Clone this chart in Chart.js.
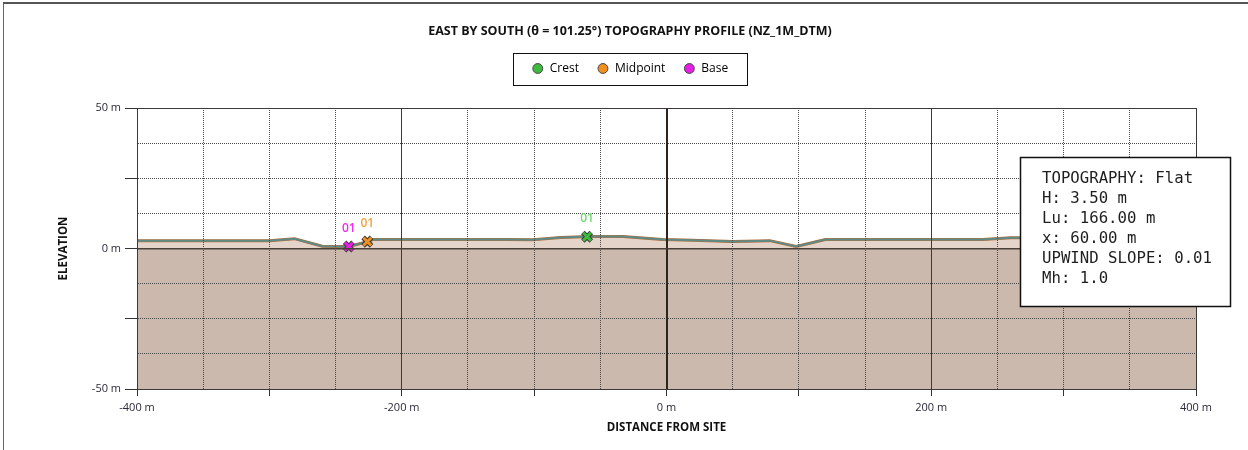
<!DOCTYPE html>
<html>
<head>
<meta charset="utf-8">
<script src="https://cdn.jsdelivr.net/npm/chart.js@4.4.1/dist/chart.umd.min.js"></script>
<style>
  html, body { margin: 0; padding: 0; background: #fff; overflow: hidden; }
  #wrap { position: relative; width: 1248px; height: 450px; }
  #frame { position: absolute; left: 3px; top: 2px; right: -10px; bottom: -10px;
           border-left: 1px solid #666; border-top: 2px solid #555; pointer-events: none; }
</style>
</head>
<body>
<div id="wrap">
  <canvas id="profileChart" width="1248" height="450"></canvas>
  <div id="frame"></div>
</div>
<script>
// terrain profile along the bearing (distance from site in m, elevation in m)
const profileX = [-400, -300, -281, -260, -249, -240, -226, -222, -160, -120, -101, -80, -58, -33, -3, 20, 50, 78, 98, 120, 239, 260, 320, 400];
const profileY = [2.8, 2.8, 3.5, 0.8, 0.7, 0.7, 2.4, 3.2, 3.2, 3.2, 3.1, 3.9, 4.3, 4.3, 3.2, 2.9, 2.5, 2.8, 0.7, 3.2, 3.2, 3.8, 3.8, 3.8];

// ground below datum
const groundX = [-400, 400];
const groundY = [0, 0];

// hill features
const markerNames = ['Crest', 'Midpoint', 'Base'];
const markerX = [-60, -226, -240];
const markerY = [4.2, 2.45, 0.7];
const markerTags = ['01', '01', '01'];
const markerColors = ['#3cbb3c', '#f0901e', '#e51fe5'];
const tagColors = ['#6fd86f', '#f7a23c', '#ef2cef'];

const infoLines = ['TOPOGRAPHY: Flat', 'H: 3.50 m', 'Lu: 166.00 m', 'x: 60.00 m', 'UPWIND SLOPE: 0.01', 'Mh: 1.0'];

const toPoints = (xs, ys) => xs.map((x, i) => ({ x: x, y: ys[i] }));

Chart.defaults.font.family = "'Open Sans', 'Noto Sans', sans-serif";
Chart.defaults.font.size = 11;
Chart.defaults.color = '#2a2a3a';

const datasets = [
  {
    label: 'ground',
    data: toPoints(groundX, groundY),
    borderWidth: 0,
    pointRadius: 0,
    fill: 'start',
    backgroundColor: '#cbb9ad',
    order: 5
  },
  {
    label: 'terrain',
    data: toPoints(profileX, profileY),
    borderColor: '#bb6c3a',
    borderWidth: 3,
    pointRadius: 0,
    fill: 'origin',
    backgroundColor: '#e5d4c9',
    order: 4
  },
  {
    label: 'profile',
    data: toPoints(profileX, profileY),
    borderColor: '#5f8b85',
    borderWidth: 2,
    pointRadius: 0,
    fill: false,
    order: 3
  }
];

// coloured crosses (indices 3..5)
markerNames.forEach((name, i) => {
  datasets.push({
    label: name,
    data: [{ x: markerX[i], y: markerY[i] }],
    showLine: false,
    pointStyle: 'crossRot',
    pointRadius: 5.5,
    pointBorderWidth: 3,
    pointBorderColor: markerColors[i],
    pointBackgroundColor: markerColors[i],
    order: 0
  });
});

// dark outline under each cross
markerNames.forEach((name, i) => {
  datasets.push({
    label: name + ' outline',
    data: [{ x: markerX[i], y: markerY[i] }],
    showLine: false,
    pointStyle: 'crossRot',
    pointRadius: 6,
    pointBorderWidth: 5,
    pointBorderColor: '#3a3a3a',
    pointBackgroundColor: '#3a3a3a',
    order: 1
  });
});

// box round the legend
const legendFrame = {
  id: 'legendFrame',
  afterDraw(chart) {
    const boxes = chart.legend.legendHitBoxes;
    if (!boxes || !boxes.length) return;
    const left = Math.min(...boxes.map(b => b.left)) - 19;
    const right = Math.max(...boxes.map(b => b.left + b.width)) + 19;
    const top = Math.min(...boxes.map(b => b.top)) - 10;
    const bottom = Math.max(...boxes.map(b => b.top + b.height)) + 9.5;
    const ctx = chart.ctx;
    ctx.save();
    ctx.strokeStyle = '#111';
    ctx.lineWidth = 1;
    ctx.strokeRect(Math.round(left) + 0.5, Math.round(top) + 0.5, Math.round(right - left), Math.round(bottom - top));
    ctx.restore();
  }
};

// "01" tags above the feature markers and the info panel
const annotations = {
  id: 'annotations',
  afterDraw(chart) {
    const ctx = chart.ctx;
    ctx.save();
    ctx.font = "600 12px 'Open Sans', sans-serif";
    ctx.textAlign = 'center';
    ctx.textBaseline = 'middle';
    markerNames.forEach((name, i) => {
      const pt = chart.getDatasetMeta(3 + i).data[0];
      ctx.fillStyle = tagColors[i];
      ctx.fillText(markerTags[i], pt.x, pt.y - 18);
    });

    const area = chart.chartArea;
    const bx = area.right - 176, by = area.top + 49, bw = 210, bh = 149;
    ctx.fillStyle = '#fff';
    ctx.fillRect(bx, by, bw, bh);
    ctx.strokeStyle = '#111';
    ctx.lineWidth = 1.5;
    ctx.strokeRect(bx + 0.5, by + 0.5, bw, bh);
    ctx.fillStyle = '#1e1e1e';
    ctx.font = "15.7px 'DejaVu Sans Mono', monospace";
    ctx.textAlign = 'left';
    infoLines.forEach((line, i) => {
      ctx.fillText(line, bx + 22, by + 22 + i * 20);
    });
    ctx.restore();
  }
};

const dotted = [1, 1];

new Chart(document.getElementById('profileChart'), {
  type: 'line',
  data: { datasets: datasets },
  plugins: [legendFrame, annotations],
  options: {
    responsive: false,
    animation: false,
    events: [],
    layout: { padding: { left: 12, right: 0, top: 0, bottom: 0 } },
    plugins: {
      title: {
        display: true,
        text: 'EAST BY SOUTH (θ = 101.25°) TOPOGRAPHY PROFILE (NZ_1M_DTM)',
        color: '#111',
        font: { size: 12.5, weight: 'bold' },
        padding: { top: 23.5, bottom: 6 }
      },
      legend: {
        display: true,
        labels: {
          usePointStyle: true,
          boxWidth: 12,
          boxHeight: 7,
          padding: 18,
          color: '#22223a',
          font: { size: 12 },
          generateLabels: () => markerNames.map((name, i) => ({
            text: name,
            fillStyle: markerColors[i],
            strokeStyle: '#444',
            lineWidth: 1,
            pointStyle: 'circle',
            hidden: false,
            datasetIndex: 3 + i
          }))
        }
      },
      tooltip: { enabled: false }
    },
    scales: {
      x: {
        type: 'linear',
        position: 'bottom',
        min: -400,
        max: 400,
        afterFit: s => { s.height = 61; },
        ticks: {
          stepSize: 50,
          autoSkip: false,
          maxRotation: 0,
          padding: 5,
          color: '#2a2a3a',
          callback: v => (v % 200 === 0 ? v + ' m' : '')
        },
        grid: {
          z: 1,
          color: '#4a4a4a',
          lineWidth: 1,
          tickLength: 7,
          tickColor: c => (c.tick && c.tick.value % 100 === 0 ? '#333' : 'rgba(0,0,0,0)')
        },
        border: { display: true, color: '#333', width: 1, dash: dotted, z: 1 },
        title: {
          display: true,
          text: 'DISTANCE FROM SITE',
          color: '#111',
          font: { size: 11.5, weight: 'bold' },
          padding: { top: 4, bottom: 15.1 }
        }
      },
      x2: {
        type: 'linear',
        position: 'top',
        min: -400,
        max: 400,
        afterFit: s => { s.height = 23.5; },
        ticks: { display: false, stepSize: 200 },
        grid: {
          z: 2,
          drawTicks: false,
          color: c => (c.tick && c.tick.value === 0 ? '#2e241e' : '#3a3a3a'),
          lineWidth: c => (c.tick && c.tick.value === 0 ? 2 : 1)
        },
        border: { display: false }
      },
      y: {
        type: 'linear',
        position: 'left',
        min: -50,
        max: 50,
        afterFit: s => { s.width = 125; },
        ticks: {
          stepSize: 12.5,
          autoSkip: false,
          padding: 4,
          color: '#2a2a3a',
          callback: v => (v % 50 === 0 ? v + ' m' : '')
        },
        grid: {
          z: 1,
          color: '#4a4a4a',
          lineWidth: 1,
          tickLength: 12,
          tickColor: c => (c.tick && c.tick.value % 25 === 0 ? '#333' : 'rgba(0,0,0,0)')
        },
        border: { display: true, color: '#333', width: 1, dash: dotted, z: 1 },
        title: {
          display: true,
          text: 'ELEVATION',
          color: '#111',
          font: { size: 11.5, weight: 'bold' },
          padding: { top: 45.1, bottom: 4 }
        }
      },
      y2: {
        type: 'linear',
        position: 'right',
        min: -50,
        max: 50,
        afterFit: s => { s.width = 52; },
        ticks: { display: false, stepSize: 50 },
        grid: {
          z: 2,
          drawTicks: false,
          color: c => (c.tick && c.tick.value === 0 ? '#4a4038' : '#3a3a3a'),
          lineWidth: c => (c.tick && c.tick.value === 0 ? 1.5 : 1)
        },
        border: { display: false }
      }
    }
  }
});
</script>
</body>
</html>
